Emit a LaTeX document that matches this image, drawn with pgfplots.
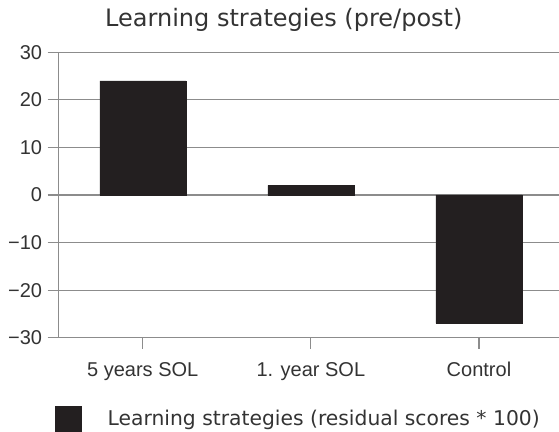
\documentclass[border=0pt]{standalone}
\usepackage{pgfplots}
\pgfplotsset{compat=1.18}
\usepackage{fontspec}
\setmainfont{Liberation Sans}
\newfontfamily\verdana{DejaVu Sans}
\definecolor{barc}{HTML}{231F20}
\definecolor{gridc}{HTML}{8C8C8C}
\definecolor{txt}{HTML}{333333}
\begin{document}
\begin{tikzpicture}
\useasboundingbox (0,0) rectangle (559pt,431pt);
\begin{axis}[
  at={(58.7pt,93.3pt)}, anchor=south west,
  scale only axis, width=500.3pt, height=285.4pt,
  xmin=-0.5, xmax=2.476, ymin=-30, ymax=30,
  axis x line*=bottom, axis y line*=left,
  axis line style={gridc, line width=1.2pt, -},
  ytick={-30,-20,-10,0,10,20,30},
  yticklabels={−30,−20,−10,0,10,20,30},
  xtick={0,1,2},
  xticklabels={5 years SOL,1. year SOL,Control},
  tick align=outside, major tick length=11pt,
  tick style={gridc, line width=1.2pt},
  ymajorgrids, grid style={gridc, line width=1.2pt},
  xticklabel style={anchor=base, yshift=-28pt, inner sep=0pt, font=\fontsize{20}{24}\selectfont, text=txt},
  yticklabel style={anchor=east, xshift=-5.5pt, inner sep=0pt, font=\fontsize{20}{24}\selectfont, text=txt},
  title={Learning strategies (pre/post)},
  title style={at={(axis description cs:0.45,1.07)}, anchor=base, inner sep=0pt, font=\verdana\fontsize{24}{28}\selectfont, text=txt},
  legend image code/.code={\fill[barc] (0pt,-12.85pt) rectangle (25.7pt,12.85pt);},
  legend cell align=left,
  legend style={draw=none, fill=none, inner sep=0pt, outer sep=0pt,
    at={(axis description cs:-0.0074,-0.2845)}, anchor=west,
    nodes={inner sep=0pt, text=txt},
    font=\verdana\fontsize{20.3}{24}\selectfont,
    /tikz/every odd column/.append style={column sep=26.6pt}},
]
\addplot[ybar, bar width=86pt, fill=barc, draw=barc] coordinates {(0,24) (1,2) (2,-27)};
\addlegendentry{Learning strategies (residual scores * 100)}
\end{axis}
\end{tikzpicture}
\end{document}
